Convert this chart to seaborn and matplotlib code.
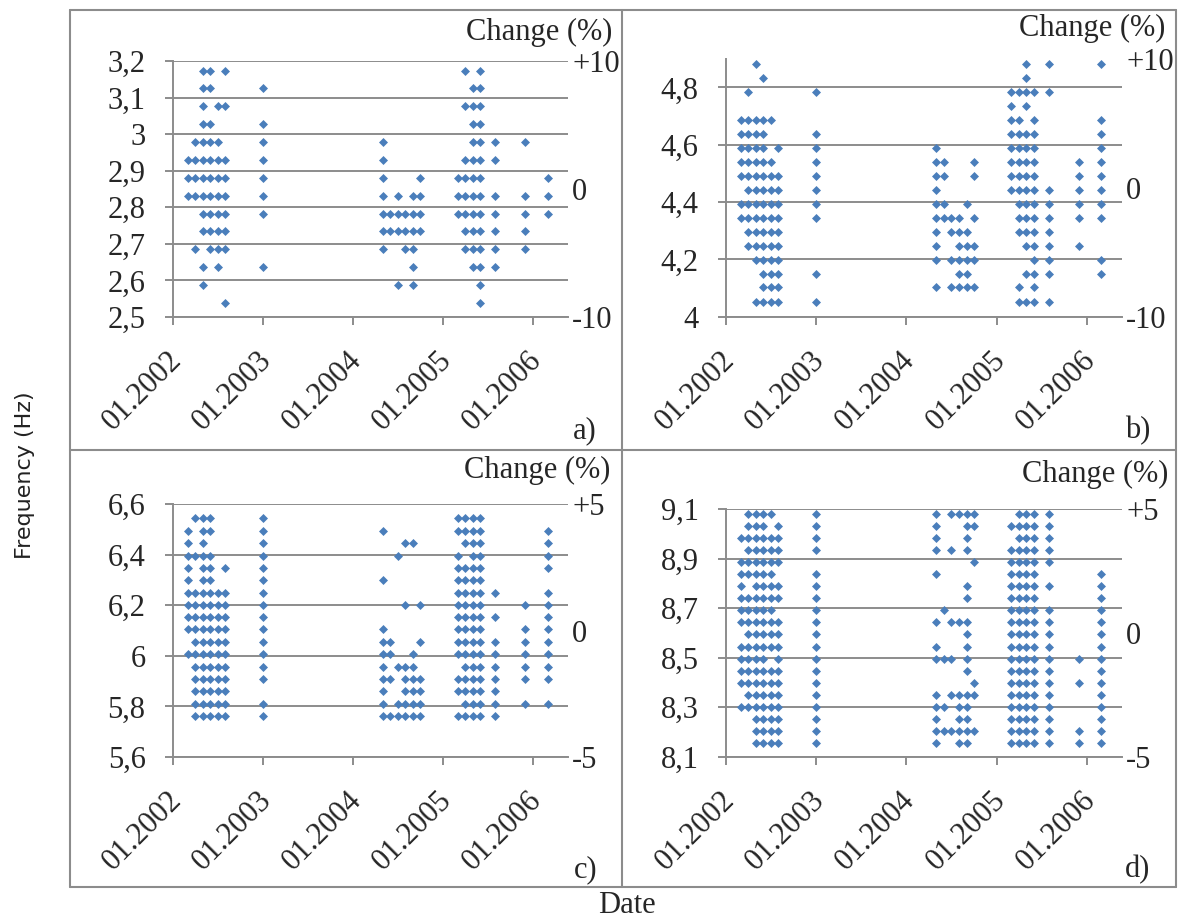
import pandas as pd
import matplotlib
matplotlib.use("Agg")
import matplotlib.pyplot as plt
import matplotlib.dates as mdates
from matplotlib.lines import Line2D
from matplotlib.ticker import FixedLocator, FuncFormatter
from matplotlib.transforms import ScaledTranslation
import seaborn as sns

# ---------------------------------------------------------------------------
# Identified natural frequencies (Hz) per measurement month, one dict per mode
# ---------------------------------------------------------------------------
MODE_A = {
    "2002-03": [2.930, 2.881, 2.832],
    "2002-04": [2.979, 2.930, 2.881, 2.832, 2.686],
    "2002-05": [3.174, 3.125, 3.076, 3.027, 2.979, 2.930, 2.881, 2.832, 2.783, 2.734, 2.637, 2.588],
    "2002-06": [3.174, 3.125, 3.027, 2.979, 2.930, 2.881, 2.832, 2.783, 2.734, 2.686],
    "2002-07": [3.076, 2.979, 2.930, 2.881, 2.832, 2.783, 2.734, 2.686, 2.637],
    "2002-08": [3.174, 3.076, 2.930, 2.881, 2.832, 2.783, 2.734, 2.686, 2.539],
    "2003-01": [3.125, 3.027, 2.979, 2.930, 2.881, 2.832, 2.783, 2.637],
    "2004-05": [2.979, 2.930, 2.881, 2.832, 2.783, 2.734, 2.686],
    "2004-06": [2.783, 2.734],
    "2004-07": [2.832, 2.783, 2.734, 2.588],
    "2004-08": [2.783, 2.734, 2.686],
    "2004-09": [2.832, 2.783, 2.734, 2.686, 2.637, 2.588],
    "2004-10": [2.881, 2.832, 2.783, 2.734],
    "2005-03": [2.881, 2.832, 2.783],
    "2005-04": [3.174, 3.076, 2.930, 2.881, 2.832, 2.783, 2.734, 2.686],
    "2005-05": [3.125, 3.076, 3.027, 2.979, 2.930, 2.881, 2.832, 2.783, 2.734, 2.686, 2.637],
    "2005-06": [3.174, 3.125, 3.076, 3.027, 2.979, 2.930, 2.881, 2.832, 2.783, 2.734, 2.686, 2.637, 2.588, 2.539],
    "2005-08": [2.979, 2.930, 2.832, 2.783, 2.734, 2.686, 2.637],
    "2005-12": [2.979, 2.832, 2.783, 2.734, 2.686],
    "2006-03": [2.881, 2.832, 2.783],
}

MODE_B = {
    "2002-03": [4.688, 4.639, 4.590, 4.541, 4.492, 4.395, 4.346],
    "2002-04": [4.785, 4.688, 4.639, 4.590, 4.541, 4.492, 4.443, 4.395, 4.346, 4.297, 4.248],
    "2002-05": [4.883, 4.688, 4.639, 4.590, 4.541, 4.492, 4.443, 4.395, 4.346, 4.297, 4.248, 4.199, 4.053],
    "2002-06": [4.834, 4.688, 4.639, 4.590, 4.541, 4.492, 4.443, 4.395, 4.346, 4.297, 4.248, 4.199, 4.150, 4.102, 4.053],
    "2002-07": [4.688, 4.541, 4.492, 4.443, 4.395, 4.346, 4.297, 4.248, 4.199, 4.150, 4.102, 4.053],
    "2002-08": [4.590, 4.492, 4.443, 4.395, 4.346, 4.297, 4.248, 4.199, 4.150, 4.102, 4.053],
    "2003-01": [4.785, 4.639, 4.590, 4.541, 4.492, 4.443, 4.395, 4.346, 4.150, 4.053],
    "2004-05": [4.590, 4.541, 4.492, 4.443, 4.395, 4.346, 4.297, 4.248, 4.199, 4.102],
    "2004-06": [4.541, 4.492, 4.395, 4.346],
    "2004-07": [4.346, 4.297, 4.199, 4.102],
    "2004-08": [4.346, 4.297, 4.248, 4.199, 4.150, 4.102],
    "2004-09": [4.395, 4.297, 4.248, 4.199, 4.150, 4.102],
    "2004-10": [4.541, 4.492, 4.346, 4.248, 4.199, 4.102],
    "2005-03": [4.785, 4.736, 4.688, 4.639, 4.590, 4.541, 4.492, 4.443],
    "2005-04": [4.785, 4.688, 4.639, 4.590, 4.541, 4.492, 4.443, 4.395, 4.346, 4.297, 4.102, 4.053],
    "2005-05": [4.883, 4.834, 4.785, 4.736, 4.639, 4.590, 4.541, 4.492, 4.443, 4.395, 4.346, 4.297, 4.248, 4.150, 4.053],
    "2005-06": [4.785, 4.688, 4.639, 4.590, 4.541, 4.492, 4.443, 4.395, 4.346, 4.297, 4.248, 4.199, 4.150, 4.102, 4.053],
    "2005-08": [4.883, 4.785, 4.443, 4.395, 4.346, 4.297, 4.248, 4.199, 4.150, 4.053],
    "2005-12": [4.541, 4.492, 4.443, 4.395, 4.346, 4.248],
    "2006-03": [4.883, 4.688, 4.639, 4.590, 4.541, 4.492, 4.443, 4.395, 4.346, 4.199, 4.150],
}

C_FULL = [6.543, 6.494, 6.445, 6.396, 6.348, 6.299, 6.250, 6.201, 6.152,
          6.104, 6.055, 6.006, 5.957, 5.908, 5.859, 5.811, 5.762]

MODE_C = {
    "2002-03": [6.494, 6.445, 6.396, 6.348, 6.299, 6.250, 6.201, 6.152, 6.104, 6.006],
    "2002-04": [6.543, 6.396, 6.250, 6.201, 6.152, 6.104, 6.055, 6.006, 5.957, 5.908, 5.859, 5.811, 5.762],
    "2002-05": C_FULL,
    "2002-06": [6.543, 6.494, 6.396, 6.348, 6.299, 6.250, 6.201, 6.152, 6.104, 6.055, 6.006, 5.957, 5.908, 5.859, 5.811, 5.762],
    "2002-07": [6.250, 6.201, 6.152, 6.104, 6.055, 6.006, 5.957, 5.908, 5.859, 5.811, 5.762],
    "2002-08": [6.348, 6.250, 6.201, 6.152, 6.104, 6.055, 6.006, 5.957, 5.908, 5.859, 5.811, 5.762],
    "2003-01": [6.543, 6.494, 6.445, 6.396, 6.348, 6.299, 6.250, 6.201, 6.152, 6.104, 6.055, 6.006, 5.957, 5.908, 5.811, 5.762],
    "2004-05": [6.494, 6.299, 6.104, 6.055, 6.006, 5.957, 5.908, 5.859, 5.811, 5.762],
    "2004-06": [6.055, 6.006, 5.908, 5.762],
    "2004-07": [6.396, 5.957, 5.811, 5.762],
    "2004-08": [6.445, 6.201, 5.957, 5.908, 5.859, 5.811, 5.762],
    "2004-09": [6.445, 6.006, 5.957, 5.908, 5.859, 5.811, 5.762],
    "2004-10": [6.201, 6.055, 5.908, 5.859, 5.811, 5.762],
    "2005-03": [6.543, 6.494, 6.396, 6.348, 6.299, 6.250, 6.201, 6.152, 6.104, 6.055, 6.006, 5.908, 5.859, 5.762],
    "2005-04": [6.543, 6.494, 6.445, 6.348, 6.299, 6.250, 6.201, 6.152, 6.104, 6.055, 6.006, 5.957, 5.908, 5.859, 5.811, 5.762],
    "2005-05": C_FULL,
    "2005-06": C_FULL,
    "2005-08": [6.250, 6.152, 6.055, 6.006, 5.957, 5.908, 5.859, 5.811, 5.762],
    "2005-12": [6.201, 6.104, 6.055, 6.006, 5.957, 5.908, 5.811],
    "2006-03": [6.494, 6.445, 6.396, 6.348, 6.250, 6.201, 6.152, 6.104, 6.055, 6.006, 5.957, 5.908, 5.811],
}

D_FULL = [9.082, 9.033, 8.984, 8.936, 8.887, 8.838, 8.789, 8.740, 8.691, 8.643,
          8.594, 8.545, 8.496, 8.447, 8.398, 8.350, 8.301, 8.252, 8.203, 8.154]

MODE_D = {
    "2002-03": [8.984, 8.887, 8.838, 8.789, 8.740, 8.691, 8.643, 8.545, 8.496, 8.447, 8.398, 8.301],
    "2002-04": [9.082, 9.033, 8.984, 8.936, 8.887, 8.838, 8.740, 8.691, 8.643, 8.594, 8.545, 8.496, 8.447, 8.398, 8.350, 8.301],
    "2002-05": D_FULL,
    "2002-06": D_FULL,
    "2002-07": [9.082, 8.984, 8.936, 8.887, 8.838, 8.789, 8.740, 8.691, 8.643, 8.594, 8.545, 8.447, 8.398, 8.350, 8.301, 8.252, 8.203, 8.154],
    "2002-08": [9.033, 8.984, 8.936, 8.887, 8.789, 8.740, 8.643, 8.594, 8.545, 8.496, 8.447, 8.398, 8.350, 8.301, 8.252, 8.203, 8.154],
    "2003-01": [9.082, 9.033, 8.984, 8.936, 8.838, 8.789, 8.740, 8.691, 8.643, 8.594, 8.545, 8.496, 8.447, 8.398, 8.350, 8.301, 8.252, 8.203, 8.154],
    "2004-05": [9.082, 9.033, 8.984, 8.936, 8.838, 8.643, 8.545, 8.496, 8.350, 8.301, 8.252, 8.203, 8.154],
    "2004-06": [8.691, 8.496, 8.301, 8.203],
    "2004-07": [9.082, 8.936, 8.643, 8.496, 8.350, 8.203],
    "2004-08": [9.082, 8.643, 8.350, 8.301, 8.252, 8.203, 8.154],
    "2004-09": [9.082, 9.033, 8.984, 8.936, 8.789, 8.740, 8.643, 8.594, 8.545, 8.496, 8.447, 8.350, 8.301, 8.252, 8.203, 8.154],
    "2004-10": [9.082, 9.033, 8.887, 8.398, 8.350, 8.203],
    "2005-03": [9.033, 8.936, 8.887, 8.838, 8.789, 8.740, 8.691, 8.643, 8.594, 8.545, 8.496, 8.447, 8.398, 8.350, 8.301, 8.252, 8.203, 8.154],
    "2005-04": D_FULL,
    "2005-05": D_FULL,
    "2005-06": D_FULL,
    "2005-08": [9.082, 9.033, 8.984, 8.936, 8.887, 8.789, 8.691, 8.643, 8.594, 8.545, 8.496, 8.447, 8.398, 8.350, 8.301, 8.252, 8.203, 8.154],
    "2005-12": [8.496, 8.398, 8.203, 8.154],
    "2006-03": [8.838, 8.789, 8.740, 8.691, 8.643, 8.594, 8.545, 8.496, 8.447, 8.398, 8.350, 8.301, 8.252, 8.203, 8.154],
}

# Axis ticks
A_YTICKS = [2.5, 2.6, 2.7, 2.8, 2.9, 3.0, 3.1, 3.2]
B_YTICKS = [4.0, 4.2, 4.4, 4.6, 4.8]
C_YTICKS = [5.6, 5.8, 6.0, 6.2, 6.4, 6.6]
D_YTICKS = [8.1, 8.3, 8.5, 8.7, 8.9, 9.1]
CHANGE_10 = [-10, 0, 10]
CHANGE_10_LABELS = ["-10", "0", "+10"]
CHANGE_5 = [-5, 0, 5]
CHANGE_5_LABELS = ["-5", "0", "+5"]
PANEL_LABELS = ["a)", "b)", "c)", "d)"]

# ---------------------------------------------------------------------------
sns.set_style("white")
plt.rcParams["font.family"] = ["Liberation Serif", "DejaVu Serif"]

W, H = 1186, 921
GRID = "#8c8c8c"
MARK = "#4a7ebb"
FS = 22


def fx(px):
    return px / W


def fy(py):
    return 1 - py / H


def rect(left, top, right, bottom):
    return [fx(left), fy(bottom), (right - left) / W, (bottom - top) / H]


def to_frame(columns):
    rows = [(pd.Timestamp(month + "-01"), f) for month, fs in columns.items() for f in fs]
    return pd.DataFrame(rows, columns=["date", "freq"])


def comma(v, pos=None):
    s = f"{v:.1f}".rstrip("0").rstrip(".")
    return s.replace(".", ",")


fig = plt.figure(figsize=(W / 100, H / 100), dpi=100)
shift_left = ScaledTranslation(-6 / 100, 0, fig.dpi_scale_trans)

panels = [
    dict(data=MODE_A, box=(173, 61, 568, 317), ylim=(2.5, 3.2), yticks=A_YTICKS,
         cticks=CHANGE_10, clabels=CHANGE_10_LABELS, change_at=(612, 32), label_at=(597, 431)),
    dict(data=MODE_B, box=(726, 58.8, 1122, 316.7), ylim=(4.0, 4.9), yticks=B_YTICKS,
         cticks=CHANGE_10, clabels=CHANGE_10_LABELS, change_at=(1165, 28), label_at=(1150, 431)),
    dict(data=MODE_C, box=(173, 504, 568, 757), ylim=(5.6, 6.6), yticks=C_YTICKS,
         cticks=CHANGE_5, clabels=CHANGE_5_LABELS, change_at=(610, 470), label_at=(597, 870)),
    dict(data=MODE_D, box=(726, 509.3, 1122, 756.7), ylim=(8.1, 9.1), yticks=D_YTICKS,
         cticks=CHANGE_5, clabels=CHANGE_5_LABELS, change_at=(1168, 474), label_at=(1150, 870)),
]

for p, lab in zip(panels, PANEL_LABELS):
    ax = fig.add_axes(rect(*p["box"]))
    df = to_frame(p["data"])
    sns.scatterplot(data=df, x="date", y="freq", ax=ax, marker="D", s=21,
                    color=MARK, linewidth=0, zorder=3)
    ax.set_xlabel("")
    ax.set_ylabel("")
    ax.set_ylim(*p["ylim"])
    ax.set_xlim(pd.Timestamp("2002-01-01"), pd.Timestamp("2006-05-23"))
    ax.yaxis.set_major_locator(FixedLocator(p["yticks"]))
    ax.yaxis.set_major_formatter(FuncFormatter(comma))
    ax.xaxis.set_major_locator(mdates.YearLocator())
    ax.xaxis.set_major_formatter(mdates.DateFormatter("%m.%Y"))
    ax.set_axisbelow(True)
    ax.grid(axis="y", color=GRID, linewidth=1.4)
    ax.grid(axis="x", visible=False)
    for side in ("top", "right"):
        ax.spines[side].set_visible(False)
    for side in ("left", "bottom"):
        ax.spines[side].set_color(GRID)
        ax.spines[side].set_linewidth(1.4)
    ax.tick_params(axis="y", direction="out", length=5.8, width=1.4, color=GRID,
                   pad=14, labelsize=FS, left=True)
    ax.tick_params(axis="x", direction="out", length=5.8, width=1.4, color=GRID,
                   pad=15, labelsize=FS, bottom=True)
    for t in ax.get_xticklabels():
        t.set_rotation(45)
        t.set_ha("right")
        t.set_va("top")
        t.set_rotation_mode("anchor")
        t.set_transform(t.get_transform() + shift_left)

    # secondary scale: relative change of frequency
    ax2 = ax.twinx()
    ax2.set_ylim(p["cticks"][0], p["cticks"][-1])
    ax2.set_yticks(p["cticks"])
    ax2.set_yticklabels(p["clabels"])
    ax2.tick_params(axis="y", length=0, pad=3, labelsize=FS)
    ax2.grid(False)
    for s in ax2.spines.values():
        s.set_visible(False)

    cx, cy = p["change_at"]
    fig.text(fx(cx), fy(cy), "Change (%)", ha="right", va="center", fontsize=FS)
    lx, ly = p["label_at"]
    fig.text(fx(lx), fy(ly), lab, ha="right", va="center", fontsize=FS)

# frame around the four charts
frame_kw = dict(color=GRID, linewidth=1.5, transform=fig.transFigure, zorder=0)
for x in (70, 622, 1176):
    fig.add_artist(Line2D([fx(x), fx(x)], [fy(10), fy(887)], **frame_kw))
for y in (10, 450, 887):
    fig.add_artist(Line2D([fx(70), fx(1176)], [fy(y), fy(y)], **frame_kw))

fig.text(fx(25), fy(475), "Frequency (Hz)", rotation=90, ha="center", va="center",
         fontsize=16, family=["DejaVu Sans"], color="#222222")
fig.text(fx(627), fy(905), "Date", ha="center", va="center", fontsize=FS)

fig.savefig("out.png", dpi=100)
